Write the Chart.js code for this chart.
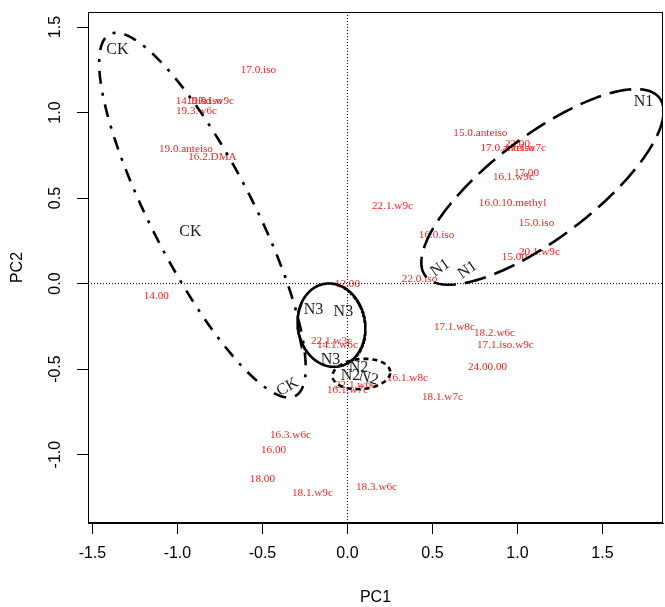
<!DOCTYPE html>
<html>
<head>
<meta charset="utf-8">
<script src="https://cdn.jsdelivr.net/npm/chart.js@4/dist/chart.umd.min.js"></script>
<style>
html, body { margin: 0; padding: 0; background: #fff; }
</style>
</head>
<body>
<canvas id="pca" width="665" height="607"></canvas>
<script>
// variable loadings (red labels)
const varNames = ['17.0.iso', '14.1.iso', '19.0.iso', '17.1.w9c', '19.3.w6c', '19.0.anteiso', '16.2.DMA',
    '15.0.anteiso', '17.0.anteiso', '22.00', '17.1.w7c', '16.1.w9c', '17.00', '16.0.10.methyl',
    '15.0.iso', '20.1.w9c', '15.00', '16.0.iso', '22.1.w9c', '12.00', '22.0.iso', '14.00',
    '22.1.w3c', '14.1.w6c', '16.1.w8c', '22.1.w6c', '16.1.w7c', '17.1.w8c', '18.2.w6c',
    '17.1.iso.w9c', '24.00.00', '18.1.w7c', '16.3.w6c', '16.00', '18.00', '18.1.w9c', '18.3.w6c'];
const varX = [-0.524, -0.906, -0.841, -0.788, -0.888, -0.95, -0.794,
    0.782, 0.941, 1.0, 1.047, 0.976, 1.053, 0.971,
    1.112, 1.129, 0.982, 0.524, 0.265, 0.0, 0.424, -1.124,
    -0.094, -0.059, 0.353, 0.047, 0.0, 0.629, 0.865,
    0.929, 0.824, 0.559, -0.335, -0.435, -0.5, -0.206, 0.171];
const varY = [1.249, 1.067, 1.067, 1.067, 1.009, 0.787, 0.740,
    0.880, 0.792, 0.816, 0.792, 0.623, 0.646, 0.471,
    0.354, 0.184, 0.155, 0.284, 0.453, -0.005, 0.026, -0.073,
    -0.336, -0.360, -0.553, -0.594, -0.623, -0.254, -0.289,
    -0.360, -0.488, -0.664, -0.886, -0.974, -1.143, -1.225, -1.19];

// sample scores (group labels)
const groupNames = ['CK', 'CK', 'CK', 'N1', 'N1', 'N1', 'N3', 'N3', 'N3', 'N2', 'N2', 'N2'];
const groupX = [-1.353, -0.924, -0.353, 1.741, 0.547, 0.706, -0.2, -0.024, -0.1, 0.065, 0.018, 0.124];
const groupY = [1.365, 0.301, -0.605, 1.061, 0.091, 0.079, -0.155, -0.167, -0.447, -0.494, -0.541, -0.553];
const groupRot = [0, 0, -30, 0, -35, -35, 0, 0, 0, 0, 0, 15];

// group ellipses
const ellipseGroups = ['CK', 'N1', 'N2', 'N3'];
const ellipseCx = [-0.853, 1.147, 0.082, -0.094];
const ellipseCy = [0.40, 0.565, -0.529, -0.243];
const ellipseA = [1.19, 0.863, 0.17, 0.245];
const ellipseB = [0.30, 0.30, 0.088, 0.198];
const ellipseAngle = [-62.7, 37, 5, 100];
const ellipseDash = [[13, 9, 3, 9], [22, 9], [5, 4], []];

const xTicks = [-1.5, -1.0, -0.5, 0.0, 0.5, 1.0, 1.5];
const yTicks = [-1.0, -0.5, 0.0, 0.5, 1.0, 1.5];
const xRange = [-1.526, 1.856];
const yRange = [-1.40, 1.588];

function ellipsePoints(i) {
    const pts = [];
    const t = ellipseAngle[i] * Math.PI / 180;
    for (let k = 0; k <= 240; k++) {
        const u = k / 240 * 2 * Math.PI;
        const ex = ellipseA[i] * Math.cos(u);
        const ey = ellipseB[i] * Math.sin(u);
        pts.push({
            x: ellipseCx[i] + ex * Math.cos(t) - ey * Math.sin(t),
            y: ellipseCy[i] + ex * Math.sin(t) + ey * Math.cos(t)
        });
    }
    return pts;
}

const datasets = ellipseGroups.map((g, i) => ({
    label: g,
    data: ellipsePoints(i),
    showLine: true,
    borderColor: '#000',
    borderWidth: 2.6,
    borderDash: ellipseDash[i],
    pointRadius: 0,
    tension: 0
}));

// dotted zero lines
datasets.push({
    label: 'x0', data: [{x: 0, y: yRange[0]}, {x: 0, y: yRange[1]}],
    showLine: true, borderColor: '#000', borderWidth: 1, borderDash: [1, 2], pointRadius: 0
});
datasets.push({
    label: 'y0', data: [{x: xRange[0], y: 0}, {x: xRange[1], y: 0}],
    showLine: true, borderColor: '#000', borderWidth: 1, borderDash: [1, 2], pointRadius: 0
});

const labelPlugin = {
    id: 'pcaLabels',
    beforeDatasetsDraw(chart) {
        const {ctx, chartArea, scales: {x, y}} = chart;
        ctx.save();
        ctx.beginPath();
        ctx.rect(chartArea.left, chartArea.top, chartArea.width, chartArea.height);
        ctx.clip();
        ctx.textAlign = 'center';
        ctx.textBaseline = 'middle';
        ctx.font = '11.2px "Liberation Serif"';
        ctx.fillStyle = '#ff1a1a';
        varNames.forEach((n, i) => {
            ctx.fillText(n, x.getPixelForValue(varX[i]), y.getPixelForValue(varY[i]));
        });
        ctx.restore();
    },
    afterDatasetsDraw(chart) {
        const {ctx, chartArea, scales: {x, y}} = chart;
        ctx.save();
        ctx.textAlign = 'center';
        ctx.textBaseline = 'middle';
        ctx.font = '16px "Liberation Serif"';
        ctx.fillStyle = '#222';
        groupNames.forEach((n, i) => {
            ctx.save();
            ctx.translate(x.getPixelForValue(groupX[i]), y.getPixelForValue(groupY[i]));
            ctx.rotate(groupRot[i] * Math.PI / 180);
            ctx.fillText(n, 0, 0);
            ctx.restore();
        });
        // plot box
        ctx.strokeStyle = '#000';
        ctx.lineWidth = 1;
        ctx.strokeRect(Math.round(chartArea.left) + 0.5, Math.round(chartArea.top) + 0.5,
            Math.round(chartArea.width) - 1, Math.round(chartArea.height) - 1);
        ctx.restore();
    }
};

const axisFont = { family: '"Liberation Sans", Arial, sans-serif', size: 16 };

new Chart(document.getElementById('pca'), {
    type: 'scatter',
    data: { datasets: datasets },
    plugins: [labelPlugin],
    options: {
        responsive: false,
        animation: false,
        layout: { padding: { top: 12, right: 2, left: 0, bottom: 0 } },
        plugins: { legend: { display: false }, tooltip: { enabled: false } },
        scales: {
            x: {
                type: 'linear',
                min: xRange[0],
                max: xRange[1],
                afterFit: s => { s.height = 84; s.paddingLeft = 0; s.paddingRight = 0; },
                afterBuildTicks: s => { s.ticks = xTicks.map(v => ({ value: v })); },
                ticks: {
                    font: axisFont, color: '#000', padding: 10,
                    autoSkip: false, maxRotation: 0,
                    callback: v => v.toFixed(1)
                },
                grid: { drawOnChartArea: false, tickLength: 11, color: '#000' },
                border: { display: true, color: '#000' },
                title: { display: true, text: 'PC1', font: axisFont, color: '#000', padding: { top: 0, bottom: 0 } }
            },
            y: {
                type: 'linear',
                min: yRange[0],
                max: yRange[1],
                afterFit: s => { s.width = 88; s.paddingTop = 0; s.paddingBottom = 0; },
                afterBuildTicks: s => { s.ticks = yTicks.map(v => ({ value: v })); },
                ticks: {
                    font: axisFont, color: '#000', padding: 8,
                    autoSkip: false, minRotation: 90, maxRotation: 90,
                    crossAlign: 'center',
                    callback: v => v.toFixed(1)
                },
                grid: { drawOnChartArea: false, tickLength: 11, color: '#000' },
                border: { display: true, color: '#000' },
                title: { display: true, text: 'PC2', font: axisFont, color: '#000', padding: { top: 8, bottom: 0 } }
            }
        }
    }
});
</script>
</body>
</html>
